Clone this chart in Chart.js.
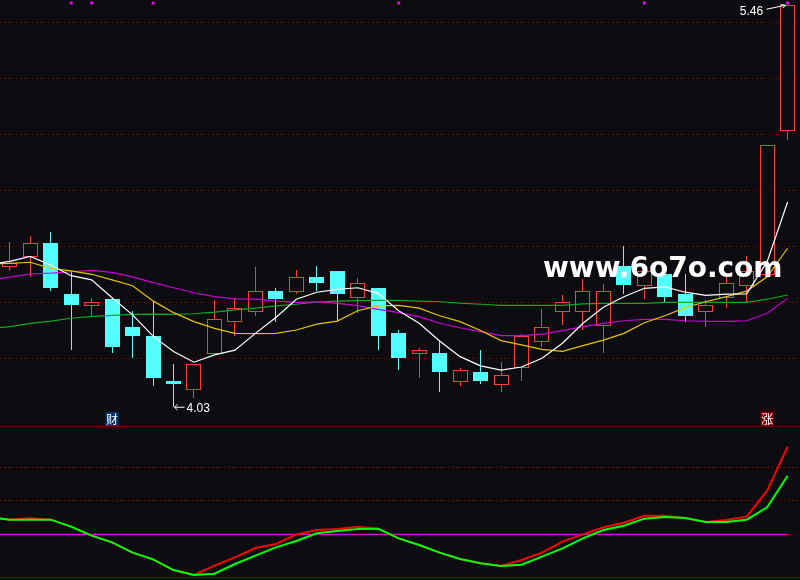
<!DOCTYPE html>
<html>
<head>
<meta charset="utf-8">
<title>K-line</title>
<script src="https://cdn.jsdelivr.net/npm/chart.js@4"></script>
<style>
    html, body { margin: 0; padding: 0; background: #0d0d11; }
    #wrap { position: relative; width: 800px; height: 580px; overflow: hidden; }
    canvas { position: absolute; left: 0; }
    #kline { top: 0; }
    #indicator { top: 426px; }
</style>
</head>
<body>
<div id="wrap">
    <canvas id="kline" width="800" height="426"></canvas>
    <canvas id="indicator" width="800" height="154"></canvas>
</div>
<script>
const openPrice = [4.526, 4.560, 4.611, 4.429, 4.387, 4.411, 4.311, 4.279, 4.118, 4.087, 4.214, 4.328, 4.365, 4.439, 4.437, 4.489, 4.511, 4.415, 4.450, 4.289, 4.215, 4.218, 4.115, 4.150, 4.105, 4.165, 4.258, 4.365, 4.365, 4.315, 4.529, 4.458, 4.500, 4.429, 4.365, 4.413, 4.458, 4.498, 5.010];
const closePrice = [4.538, 4.610, 4.451, 4.389, 4.399, 4.239, 4.279, 4.129, 4.107, 4.179, 4.338, 4.378, 4.438, 4.411, 4.488, 4.468, 4.429, 4.467, 4.279, 4.200, 4.228, 4.150, 4.156, 4.118, 4.138, 4.278, 4.310, 4.399, 4.438, 4.438, 4.461, 4.510, 4.418, 4.350, 4.388, 4.467, 4.510, 4.960, 5.460];
const highPrice = [4.614, 4.636, 4.650, 4.512, 4.414, 4.411, 4.368, 4.400, 4.179, 4.179, 4.407, 4.413, 4.525, 4.450, 4.514, 4.529, 4.511, 4.486, 4.450, 4.300, 4.236, 4.264, 4.164, 4.229, 4.186, 4.286, 4.375, 4.425, 4.482, 4.464, 4.600, 4.536, 4.525, 4.500, 4.407, 4.490, 4.564, 4.960, 5.460];
const lowPrice = [4.512, 4.490, 4.440, 4.229, 4.350, 4.219, 4.201, 4.101, 4.026, 4.058, 4.214, 4.280, 4.351, 4.329, 4.429, 4.440, 4.329, 4.362, 4.229, 4.157, 4.129, 4.079, 4.100, 4.107, 4.079, 4.118, 4.239, 4.318, 4.300, 4.218, 4.429, 4.411, 4.401, 4.329, 4.311, 4.379, 4.400, 4.498, 4.980];

// moving averages start one bar before the first visible candle
const maShort = [4.534, 4.545, 4.563, 4.532, 4.494, 4.479, 4.415, 4.354, 4.278, 4.223, 4.185, 4.211, 4.228, 4.288, 4.345, 4.410, 4.435, 4.445, 4.451, 4.431, 4.369, 4.324, 4.261, 4.205, 4.172, 4.157, 4.168, 4.199, 4.253, 4.324, 4.381, 4.419, 4.449, 4.454, 4.435, 4.424, 4.428, 4.429, 4.544, 4.757];
const maMid = [4.536, 4.538, 4.542, 4.520, 4.511, 4.499, 4.479, 4.458, 4.404, 4.362, 4.330, 4.306, 4.288, 4.287, 4.288, 4.300, 4.321, 4.332, 4.369, 4.386, 4.388, 4.378, 4.351, 4.330, 4.298, 4.262, 4.247, 4.231, 4.224, 4.244, 4.264, 4.288, 4.326, 4.351, 4.380, 4.401, 4.419, 4.439, 4.490, 4.592];
const maLong = [4.479, 4.489, 4.500, 4.503, 4.508, 4.513, 4.506, 4.490, 4.469, 4.451, 4.433, 4.419, 4.411, 4.410, 4.403, 4.399, 4.401, 4.395, 4.387, 4.374, 4.362, 4.348, 4.324, 4.308, 4.294, 4.280, 4.280, 4.285, 4.298, 4.312, 4.324, 4.333, 4.338, 4.338, 4.333, 4.331, 4.331, 4.333, 4.360, 4.413];
const maYear = [4.305, 4.312, 4.324, 4.332, 4.342, 4.349, 4.352, 4.356, 4.357, 4.356, 4.358, 4.364, 4.372, 4.378, 4.386, 4.392, 4.400, 4.403, 4.405, 4.406, 4.406, 4.403, 4.401, 4.396, 4.392, 4.388, 4.388, 4.388, 4.388, 4.393, 4.395, 4.395, 4.395, 4.399, 4.399, 4.399, 4.399, 4.399, 4.410, 4.425];

const signalBars = [3, 4, 7, 19, 31, 38];
const signalPrice = 5.468;
const priceGrid = [5.4, 5.2, 5.0, 4.8, 4.6, 4.4, 4.2];

const fastLine = [0.506, 0.437, 0.477, 0.437, 0.228, -0.041, -0.240, -0.548, -0.747, -1.066, -1.215, -0.936, -0.688, -0.409, -0.290, -0.001, 0.128, 0.158, 0.228, 0.168, -0.120, -0.319, -0.548, -0.737, -0.867, -0.946, -0.767, -0.548, -0.220, -0.001, 0.208, 0.347, 0.556, 0.556, 0.487, 0.367, 0.427, 0.526, 1.302, 2.616];
const slowLine = [0.506, 0.437, 0.437, 0.437, 0.228, -0.041, -0.240, -0.548, -0.747, -1.066, -1.215, -1.175, -0.887, -0.638, -0.389, -0.200, 0.029, 0.099, 0.158, 0.168, -0.120, -0.319, -0.548, -0.737, -0.867, -0.946, -0.906, -0.668, -0.419, -0.120, 0.128, 0.258, 0.467, 0.516, 0.487, 0.367, 0.367, 0.437, 0.805, 1.750];
const indicatorGrid = [-1.304, 0, 1, 2, 3.233];
const indicatorEdges = [-1.304, 3.233];

const lowBar = 8, highBar = 38;
const lowLabel = "4.03", highLabel = "5.46";
const watermark = "www.6o7o.com";
const badges = [
    { bar: 5, text: "财", color: "#0a3366" },
    { bar: 37, text: "涨", color: "#7a0000" },
];

const BG = "#0d0d11";
const RED = "#ff3c3c";
const CYAN = "#54ffff";
const GRID = "#700000";

const xRange = { min: -0.4768, max: 38.605 };
const bars = openPrice.map((_, i) => i);
const isUp = i => closePrice[i] >= openPrice[i];

function lineSet(values, color, order, width) {
    return {
        type: "line",
        data: values.map((y, i) => ({ x: i - 1, y })),
        borderColor: color,
        borderWidth: width,
        pointRadius: 0,
        order,
    };
}

function axes(yMin, yMax, gridValues, dash) {
    return {
        x: { type: "linear", display: false, offset: false, min: xRange.min, max: xRange.max },
        y: {
            min: yMin,
            max: yMax,
            ticks: { display: false },
            afterBuildTicks: scale => { scale.ticks = gridValues.map(value => ({ value })); },
            afterFit: scale => { scale.width = 0; },
            grid: { color: GRID, lineWidth: 1, drawTicks: false },
            border: { display: false, dash },
        },
    };
}

// keep candle edges on whole pixels so borders and wicks stay crisp
const snapBars = {
    id: "snapBars",
    beforeDatasetsDraw(chart) {
        chart.getSortedVisibleDatasetMetas().forEach(meta => {
            if (meta.type !== "bar") return;
            meta.data.forEach(el => {
                el.x = Math.floor(el.x) + 0.5;
                el.y = Math.round(el.y);
                el.base = Math.round(el.base);
            });
        });
    },
};

// labels, arrows, badges and the site text on top of the candles
const overlay = {
    id: "overlay",
    afterDraw(chart) {
        const { ctx, scales } = chart;
        const lowX = scales.x.getPixelForValue(lowBar);
        const lowY = scales.y.getPixelForValue(lowPrice[lowBar]);
        const highX = scales.x.getPixelForValue(highBar);
        const highY = scales.y.getPixelForValue(highPrice[highBar]);

        ctx.save();
        ctx.strokeStyle = "#fff";
        ctx.fillStyle = "#fff";
        ctx.lineWidth = 1;
        ctx.textBaseline = "middle";
        ctx.font = '12px "Liberation Sans"';

        ctx.beginPath();
        ctx.moveTo(lowX + 11, lowY + 0.5);
        ctx.lineTo(lowX + 1, lowY + 0.5);
        ctx.moveTo(lowX + 4, lowY - 2.5);
        ctx.lineTo(lowX + 1, lowY + 0.5);
        ctx.lineTo(lowX + 4, lowY + 3.5);
        ctx.stroke();
        ctx.textAlign = "left";
        ctx.fillText(lowLabel, lowX + 13, lowY + 2);

        ctx.beginPath();
        ctx.moveTo(highX - 21, highY + 4);
        ctx.lineTo(highX - 2, highY);
        ctx.moveTo(highX - 7, highY - 0.5);
        ctx.lineTo(highX - 2, highY);
        ctx.lineTo(highX - 5, highY + 3);
        ctx.stroke();
        ctx.textAlign = "right";
        ctx.fillText(highLabel, highX - 24.5, highY + 6);

        ctx.font = '12px "Noto Sans CJK SC"';
        ctx.textAlign = "center";
        badges.forEach(b => {
            const x = scales.x.getPixelForValue(b.bar);
            ctx.fillStyle = b.color;
            ctx.fillRect(x - 6.5, 412, 13, 14);
            ctx.fillStyle = "#fff";
            ctx.fillText(b.text, x, 419);
        });

        ctx.font = 'bold 28px "DejaVu Sans"';
        ctx.textAlign = "left";
        ctx.fillText(watermark, 543, 270);
        ctx.restore();
    },
};

new Chart(document.getElementById("kline"), {
    type: "bar",
    plugins: [snapBars, overlay],
    data: {
        datasets: [
            {
                type: "line",
                data: signalBars.map(x => ({ x, y: signalPrice })),
                showLine: false,
                pointStyle: "rect",
                pointRadius: 2,
                pointBorderWidth: 0,
                pointBackgroundColor: "#ff00ff",
                clip: false,
                order: 0,
            },
            lineSet(maShort, "#ffffff", 1, 1.2),
            lineSet(maMid, "#e6c400", 2, 1.2),
            lineSet(maLong, "#cc00dd", 3, 1.2),
            lineSet(maYear, "#10a820", 4, 1.2),
            {
                data: bars.map(i => ({ x: i, y: [openPrice[i], closePrice[i]] })),
                backgroundColor: bars.map(i => (isUp(i) ? BG : CYAN)),
                borderColor: bars.map(i => (isUp(i) ? RED : CYAN)),
                borderWidth: 1,
                borderSkipped: false,
                inflateAmount: 0,
                barThickness: 15,
                grouped: false,
                order: 5,
            },
            {
                data: bars.map(i => ({ x: i, y: [lowPrice[i], highPrice[i]] })),
                backgroundColor: bars.map(i => (isUp(i) ? RED : CYAN)),
                borderWidth: 0,
                inflateAmount: 0,
                barThickness: 1,
                grouped: false,
                order: 6,
            },
        ],
    },
    options: {
        responsive: false,
        animation: false,
        events: [],
        layout: { padding: 0, autoPadding: false },
        plugins: { legend: { display: false }, tooltip: { enabled: false } },
        scales: axes(3.9572, 5.4786, priceGrid, [1, 3]),
    },
});

new Chart(document.getElementById("indicator"), {
    type: "line",
    data: {
        datasets: [
            lineSet(slowLine, "#00ff00", 0, 2),
            lineSet(fastLine, "#ff0000", 1, 2),
            lineSet(bars.concat(38).map(() => 0), "#e000e0", 2, 1.2),
        ],
    },
    options: {
        responsive: false,
        animation: false,
        events: [],
        layout: { padding: 0, autoPadding: false },
        plugins: { legend: { display: false }, tooltip: { enabled: false } },
        scales: axes(-1.364, 3.233, indicatorGrid, ctx => (ctx.tick && indicatorEdges.includes(ctx.tick.value) ? [] : [1, 3])),
    },
});
</script>
</body>
</html>
